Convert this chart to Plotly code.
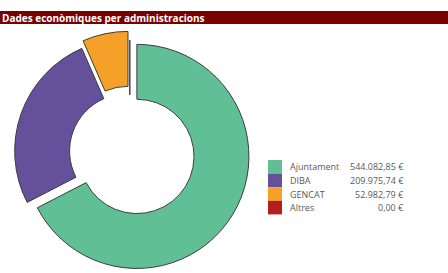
import plotly.graph_objects as go

# ---- data ----
labels = ["Ajuntament", "DIBA", "GENCAT", "Altres"]
values = [544082.85, 209975.74, 52982.79, 0.00]
colors = ["#60bf95", "#64509b", "#f5a028", "#b41e1e"]
pulls = [0.074, 0.029, 0.079, 0.0]
title_text = "Dades econòmiques per administracions"

W, H = 448, 273


def fmt_eur(v):
    s = f"{v:,.2f}"  # 544,082.85
    s = s.replace(",", "X").replace(".", ",").replace("X", ".")
    return s + " €"


def px(x):
    return x / W


def py(y):
    return 1 - y / H


fig = go.Figure()
fig.add_trace(go.Pie(
    labels=labels,
    values=values,
    marker=dict(colors=colors, line=dict(color="#3c3c3c", width=1)),
    pull=pulls,
    hole=0.51,
    sort=False,
    direction="clockwise",
    rotation=0,
    textinfo="none",
    hoverinfo="skip",
    showlegend=False,
    domain=dict(x=[px(8.8), px(250.8)], y=[0, 1 - 31.2 / H]),
))

shapes = []
annotations = []

# title bar
shapes.append(dict(type="rect", xref="paper", yref="paper",
                   x0=0, x1=1, y0=py(24), y1=py(11),
                   fillcolor="#780000", line=dict(width=0), layer="below"))
annotations.append(dict(text="<b>" + title_text + "</b>", xref="paper", yref="paper",
                        x=0, y=py(17.5), xanchor="left", yanchor="middle",
                        xshift=0, showarrow=False,
                        font=dict(family="Open Sans", size=10, color="white")))

# custom legend
row_h = 13.6
top = 160
for i, (lab, val, col) in enumerate(zip(labels, values, colors)):
    y0 = top + i * row_h
    y1 = y0 + row_h
    shapes.append(dict(type="rect", xref="paper", yref="paper",
                       x0=px(268), x1=px(282), y0=py(y1), y1=py(y0),
                       fillcolor=col, line=dict(width=0)))
    yc = (y0 + y1) / 2
    annotations.append(dict(text=lab, xref="paper", yref="paper",
                            x=px(288), y=py(yc), xanchor="left", yanchor="middle",
                            showarrow=False,
                            font=dict(family="Open Sans", size=9, color="#595959")))
    annotations.append(dict(text=fmt_eur(val), xref="paper", yref="paper",
                            x=px(406), y=py(yc), xanchor="right", yanchor="middle",
                            showarrow=False,
                            font=dict(family="Open Sans", size=9, color="#595959")))

fig.update_layout(
    width=W, height=H,
    margin=dict(l=0, r=0, t=0, b=0),
    paper_bgcolor="white",
    plot_bgcolor="white",
    shapes=shapes,
    annotations=annotations,
)

fig.write_html("out.html",
               config={"displayModeBar": False},
               post_script="document.body.style.margin='0';document.body.style.overflow='hidden';")
